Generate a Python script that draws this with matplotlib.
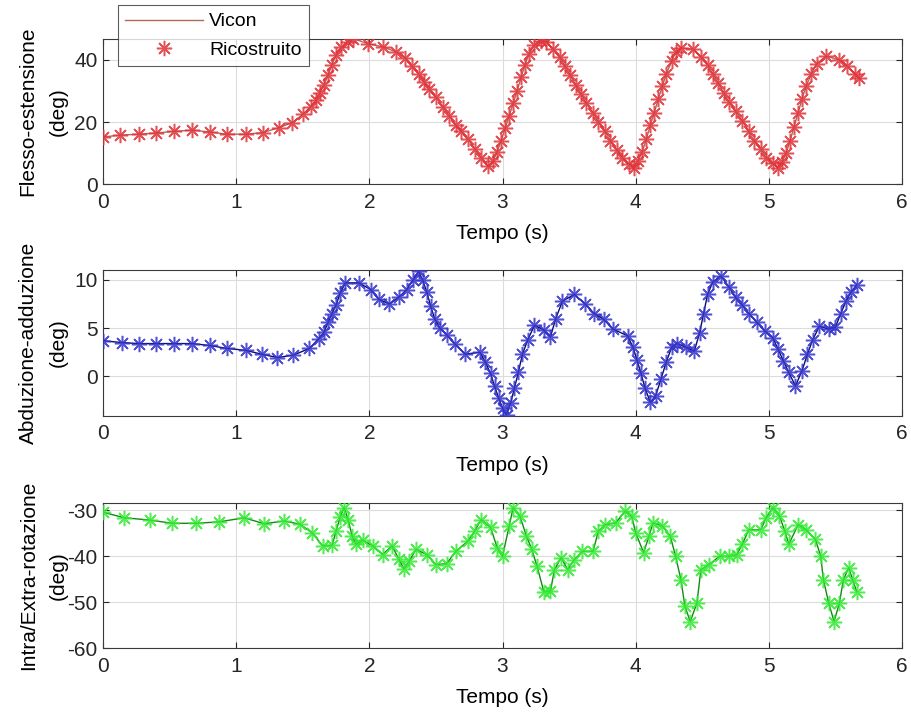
import matplotlib
matplotlib.use("Agg")
import matplotlib.pyplot as plt

plt.rcParams["font.family"] = ["Liberation Sans", "DejaVu Sans"]
plt.rcParams["axes.unicode_minus"] = False

# Flesso-estensione (deg)
t_flex = [0, 0.13, 0.27, 0.40, 0.53, 0.67, 0.80, 0.93, 1.07, 1.20, 1.32, 1.42, 1.50, 1.56, 1.60,
          1.63, 1.66, 1.69, 1.72, 1.75, 1.79, 1.84, 1.88, 1.99, 2.10, 2.20, 2.27, 2.32, 2.37, 2.41,
          2.45, 2.50, 2.55, 2.60, 2.65, 2.69, 2.74, 2.79, 2.84, 2.89, 2.93, 2.96, 2.99, 3.02, 3.05,
          3.08, 3.11, 3.14, 3.17, 3.20, 3.24, 3.29, 3.33, 3.38, 3.43, 3.47, 3.51, 3.55, 3.59, 3.63,
          3.68, 3.72, 3.77, 3.81, 3.86, 3.90, 3.95, 3.99, 4.02, 4.05, 4.08, 4.11, 4.14, 4.17, 4.20,
          4.23, 4.27, 4.30, 4.34, 4.43, 4.49, 4.54, 4.58, 4.62, 4.66, 4.70, 4.75, 4.80, 4.85, 4.89,
          4.94, 4.98, 5.03, 5.07, 5.10, 5.13, 5.16, 5.19, 5.22, 5.25, 5.28, 5.32, 5.36, 5.43, 5.53,
          5.59, 5.65, 5.68]
y_flex = [15.2, 15.8, 16.1, 16.5, 17.0, 17.4, 16.8, 16.1, 16.1, 16.6, 18.2, 19.8, 22.5, 25.0, 27.0,
          29.5, 32.0, 35.0, 38.5, 41.5, 44.0, 45.8, 46.8, 45.2, 44.2, 42.6, 40.6, 38.0, 35.5, 33.0,
          30.5, 28.0, 25.0, 22.0, 19.0, 17.0, 14.5, 11.5, 8.5, 5.8, 7.5, 10.5, 14.0, 18.0, 22.0,
          26.0, 30.0, 34.5, 38.5, 42.0, 44.8, 46.2, 45.8, 43.5, 41.0, 38.0, 35.0, 32.0, 29.0, 26.0,
          23.0, 20.0, 17.0, 14.0, 11.0, 8.5, 6.5, 5.2, 7.5, 10.5, 14.5, 19.0, 23.0, 27.5, 31.5,
          35.5, 39.5, 42.5, 43.8, 43.5, 41.0, 38.5, 35.5, 32.5, 29.5, 26.5, 23.5, 20.5, 17.0, 14.0,
          11.5, 8.5, 6.8, 5.3, 7.0, 10.0, 14.0, 18.5, 23.0, 27.5, 31.5, 35.5, 38.8, 41.2, 40.0,
          38.0, 35.5, 34.2]

# Abduzione-adduzione (deg)
t_abd = [0, 0.14, 0.27, 0.40, 0.53, 0.67, 0.80, 0.93, 1.07, 1.19, 1.31, 1.43, 1.55, 1.62, 1.66,
         1.69, 1.72, 1.75, 1.78, 1.82, 1.92, 2.01, 2.07, 2.15, 2.22, 2.28, 2.33, 2.37, 2.40, 2.43,
         2.46, 2.49, 2.53, 2.58, 2.64, 2.72, 2.83, 2.87, 2.91, 2.94, 2.97, 3.00, 3.03, 3.06, 3.09,
         3.12, 3.15, 3.19, 3.24, 3.31, 3.36, 3.40, 3.45, 3.54, 3.62, 3.69, 3.76, 3.83, 3.94, 3.98,
         4.01, 4.04, 4.07, 4.11, 4.15, 4.19, 4.23, 4.27, 4.31, 4.38, 4.44, 4.48, 4.51, 4.54, 4.58,
         4.64, 4.70, 4.75, 4.80, 4.85, 4.91, 4.97, 5.03, 5.07, 5.11, 5.15, 5.20, 5.25, 5.29, 5.33,
         5.38, 5.45, 5.50, 5.54, 5.58, 5.62, 5.66]
y_abd = [3.7, 3.5, 3.4, 3.4, 3.4, 3.4, 3.2, 2.9, 2.7, 2.3, 1.95, 2.2, 2.9, 3.9, 4.6,
         5.6, 6.5, 7.4, 8.6, 9.7, 9.7, 9.0, 8.0, 7.5, 8.2, 9.0, 10.0, 10.9, 10.0, 8.8,
         7.3, 6.0, 5.0, 4.3, 3.4, 2.3, 2.5, 1.5, 0.3, -1.0, -2.2, -3.3, -4.0, -2.8, -1.2,
         0.5, 2.3, 3.8, 5.3, 4.8, 4.1, 6.0, 7.8, 8.5, 7.5, 6.5, 5.9, 4.9, 4.2, 3.0,
         1.7, 0.3, -1.2, -2.7, -2.0, -0.3, 1.5, 3.0, 3.4, 3.0, 2.6, 4.5, 6.5, 8.5, 9.8,
         10.4, 9.3, 8.2, 7.4, 6.5, 5.6, 4.7, 4.0, 2.8, 1.6, 0.4, -1.0, 0.6, 2.3, 3.8,
         5.2, 4.9, 5.1, 6.5, 7.8, 8.8, 9.5]

# Intra/Extra-rotazione (deg)
t_rot = [0, 0.16, 0.35, 0.52, 0.70, 0.87, 1.06, 1.21, 1.36, 1.48, 1.57, 1.65, 1.72, 1.75, 1.78,
         1.81, 1.84, 1.87, 1.90, 1.95, 2.03, 2.10, 2.17, 2.22, 2.26, 2.30, 2.35, 2.43, 2.50, 2.58,
         2.65, 2.74, 2.79, 2.84, 2.91, 2.96, 3.00, 3.05, 3.08, 3.13, 3.18, 3.22, 3.26, 3.31, 3.36,
         3.39, 3.44, 3.49, 3.54, 3.60, 3.68, 3.72, 3.77, 3.85, 3.92, 3.97, 4.00, 4.06, 4.10, 4.13,
         4.20, 4.26, 4.30, 4.34, 4.37, 4.41, 4.46, 4.49, 4.55, 4.63, 4.70, 4.76, 4.80, 4.85, 4.94,
         4.98, 5.03, 5.08, 5.12, 5.15, 5.22, 5.28, 5.35, 5.39, 5.41, 5.45, 5.49, 5.53, 5.56, 5.60,
         5.63, 5.66]
y_rot = [-30.4, -31.6, -32.1, -32.8, -32.8, -32.5, -31.6, -32.9, -32.3, -33.0, -34.9, -37.7, -37.6, -34.5, -31.5,
         -29.4, -32.0, -35.5, -37.4, -36.5, -37.8, -39.6, -37.7, -40.5, -42.8, -41.0, -38.5, -39.6, -41.8, -41.6,
         -38.9, -36.7, -34.5, -32.0, -33.7, -38.1, -40.0, -33.4, -29.4, -31.2, -35.6, -38.5, -42.2, -47.7, -47.6,
         -42.9, -40.3, -42.9, -40.7, -38.9, -38.9, -34.5, -33.1, -32.7, -30.2, -31.2, -34.9, -39.2, -35.6, -32.7,
         -33.4, -35.6, -40.0, -45.1, -50.9, -54.2, -50.2, -42.9, -41.8, -40.0, -40.0, -39.6, -37.4, -34.2, -34.2,
         -31.6, -29.4, -31.2, -34.5, -37.4, -33.1, -34.2, -36.3, -40.0, -45.1, -50.2, -54.2, -50.2, -45.1, -42.5,
         -45.1, -47.7]

y_labels = ["Flesso-estensione\n(deg)", "Abduzione-adduzione\n(deg)", "Intra/Extra-rotazione\n(deg)"]
y_limits = [(0, 46.8), (-4.1, 11.0), (-60, -28.3)]
y_ticks = [[0, 20, 40], [0, 5, 10], [-60, -50, -40, -30]]
line_colors = ["#7a1414", "#0a0a70", "#138a13"]
marker_colors = ["#e0343a", "#3434cc", "#33ea33"]

ASTERISK = (8, 2, 0)  # MATLAB-like '*' : plus and cross combined


def draw_panel(ax, t, y, idx):
    ax.plot(t, y, color=line_colors[idx], lw=1.0, label="Vicon", zorder=3)
    ax.plot(t, y, ls="none", marker=ASTERISK, ms=11, mew=1.1, color=marker_colors[idx],
            alpha=0.85, label="Ricostruito", zorder=4)
    ax.set_xlim(0, 6)
    ax.set_ylim(*y_limits[idx])
    ax.set_xticks(range(0, 7))
    ax.set_yticks(y_ticks[idx])
    ax.grid(True, color="#dcdcdc", lw=0.8)
    ax.set_axisbelow(True)
    ax.tick_params(direction="in", top=True, right=True, length=4, labelsize=15,
                   colors="#262626")
    ax.tick_params(axis="x", pad=6)
    ax.tick_params(axis="y", pad=4)
    for s in ax.spines.values():
        s.set_color("#3a3a3a")
        s.set_linewidth(0.8)
    ax.set_xlabel("Tempo (s)", fontsize=15, labelpad=9)
    ax.set_ylabel(y_labels[idx], fontsize=15, linespacing=1.75)
    ax.yaxis.set_label_coords(-0.044, 0.5)


def main():
    fig = plt.figure(figsize=(9.12, 7.17), dpi=100)
    left, width = 0.113, 0.876
    bottoms = [0.743, 0.420, 0.096]
    height = 0.203
    data = [(t_flex, y_flex), (t_abd, y_abd), (t_rot, y_rot)]

    axes = []
    for i, (t, y) in enumerate(data):
        ax = fig.add_axes([left, bottoms[i], width, height])
        draw_panel(ax, t, y, i)
        axes.append(ax)

    # legend on the top panel, sticking out above the frame like the original
    h, lab = axes[0].get_legend_handles_labels()
    h[0].set_color("#b06a5a")
    leg = fig.legend(h, lab, loc="upper left", bbox_to_anchor=(0.129, 0.993),
                     borderaxespad=0, fontsize=14, frameon=True, fancybox=False,
                     edgecolor="#333333", handlelength=4.0, borderpad=0.4,
                     labelspacing=0.55, handletextpad=0.3)
    leg.get_frame().set_linewidth(0.8)

    fig.savefig("out.png", dpi=100, facecolor="white")


if __name__ == "__main__":
    main()
